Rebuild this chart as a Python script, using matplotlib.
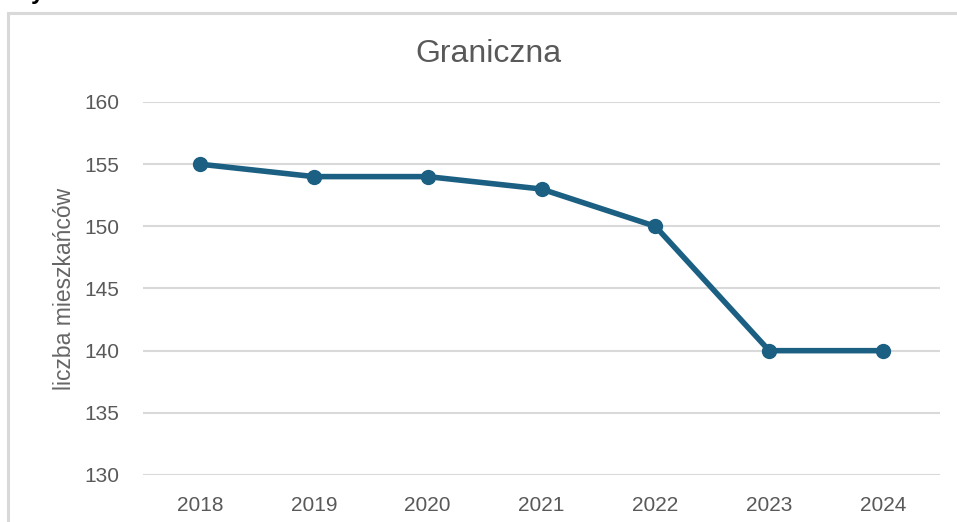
import matplotlib.pyplot as plt
from matplotlib.patches import Rectangle

# Data
years = ['2018', '2019', '2020', '2021', '2022', '2023', '2024']
residents = [155, 154, 154, 153, 150, 140, 140]
y_ticks = [130, 135, 140, 145, 150, 155, 160]

plt.rcParams['font.family'] = ['Liberation Sans', 'DejaVu Sans']

fig = plt.figure(figsize=(9.57, 5.22), dpi=100)
ax = fig.add_axes([143 / 957, 1 - 475 / 522, (940 - 143) / 957, (475 - 102) / 522])

# chart area border (cut off at the bottom/right like the screenshot)
fig.patches.append(Rectangle((8 / 957, -0.05), 1.05, 1 - 13 / 522 + 0.05,
                             transform=fig.transFigure, fill=False,
                             edgecolor='#D9D9D9', linewidth=2.2, zorder=0))

# tail of the document text cut off above the chart
fig.text(31 / 957, 1 + 0.5 / 522, 'y', ha='left', va='baseline',
         fontsize=17, fontweight='bold', color='black')

x = range(len(years))
ax.plot(x, residents, color='#1B5F82', linewidth=4, marker='o', markersize=10,
        solid_capstyle='round', zorder=3)

ax.set_xlim(-0.5, len(years) - 0.5)
ax.set_ylim(130, 160)
ax.set_yticks(y_ticks)
ax.set_xticks(list(x))
ax.set_xticklabels(years)
ax.grid(axis='y', color='#D9D9D9', linewidth=1.5)
ax.set_axisbelow(True)
for s in ax.spines.values():
    s.set_visible(False)
ax.tick_params(axis='both', length=0, labelsize=15, colors='#595959')
ax.tick_params(axis='y', pad=17)
ax.tick_params(axis='x', pad=15)

ax.set_ylabel('liczba mieszkańców', fontsize=16.5, color='#666666', labelpad=6)

fig.text(488 / 957, 1 - 62 / 522, 'Graniczna', ha='center', va='baseline',
         fontsize=23, color='#595959')

fig.savefig('out.png', dpi=100)
